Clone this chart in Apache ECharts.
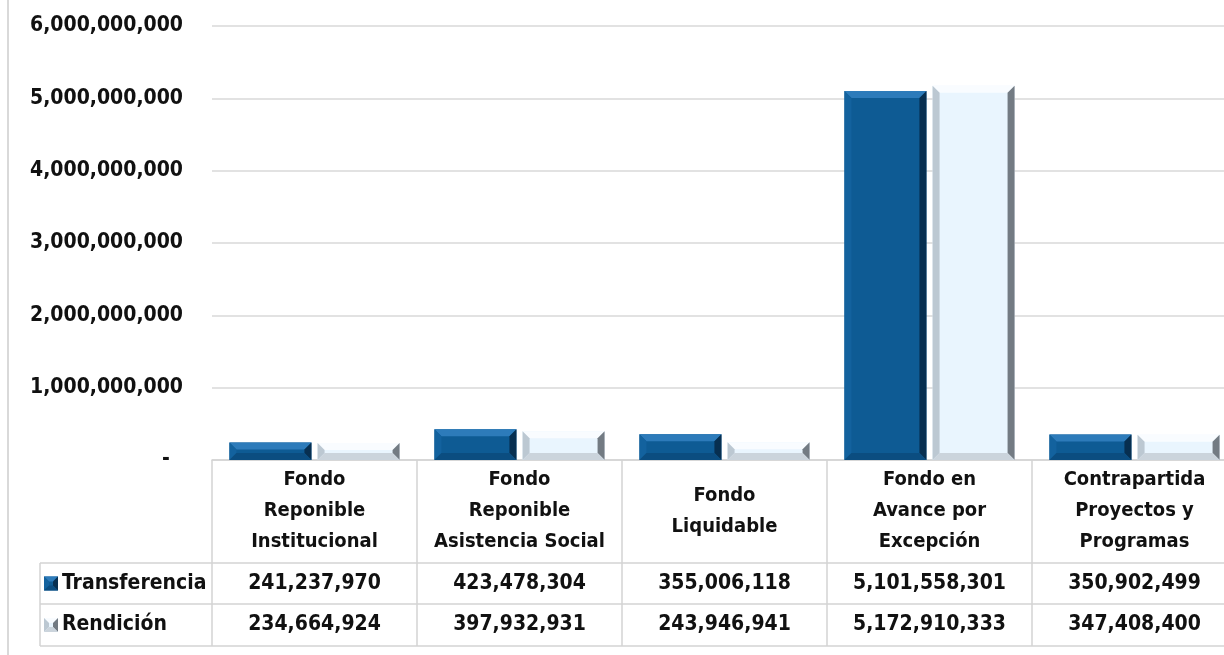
<!DOCTYPE html>
<html>
<head>
<meta charset="utf-8">
<script src="https://cdn.jsdelivr.net/npm/echarts@6/dist/echarts.min.js"></script>
<style>
html,body{margin:0;padding:0;background:#fff;overflow:hidden;width:1224px;height:655px;}
#chart{width:1237px;height:655px;}
</style>
</head>
<body>
<div id="chart"></div>
<script>
const categories = ['Fondo\nReponible\nInstitucional', 'Fondo\nReponible\nAsistencia Social', 'Fondo\nLiquidable', 'Fondo en\nAvance por\nExcepción', 'Contrapartida\nProyectos y\nProgramas'];
const seriesNames = ['Transferencia', 'Rendición'];
const transferencia = [241237970, 423478304, 355006118, 5101558301, 350902499];
const rendicion = [234664924, 397932931, 243946941, 5172910333, 347408400];
const yMin = 0, yMax = 6000000000, yInterval = 1000000000;

const FONT = '"DejaVu Sans Condensed", "DejaVu Sans", sans-serif';
const palettes = [
  {main: '#0e5b94', top: '#2d7bba', left: '#13629e', right: '#072f50', bottom: '#0b4d80'},
  {main: '#e9f5fe', top: '#f9fcff', left: '#bcc8d2', right: '#737b83', bottom: '#cbd4dc'}
];

function bevelShapes(x0, y0, x1, y1, b, pal) {
  const ix0 = x0 + b, iy0 = y0 + b, ix1 = x1 - b, iy1 = y1 - b;
  const out = [];
  const poly = (pts, c) => out.push({type: 'polygon', shape: {points: pts}, style: {fill: c}});
  out.push({type: 'rect', shape: {x: x0, y: y0, width: x1 - x0, height: y1 - y0}, style: {fill: pal.main}});
  poly([[x0, y0], [x1, y0], [ix1, iy0], [ix0, iy0]], pal.top);
  poly([[x0, y0], [ix0, iy0], [ix0, iy1], [x0, y1]], pal.left);
  poly([[x1, y0], [x1, y1], [ix1, iy1], [ix1, iy0]], pal.right);
  poly([[x0, y1], [ix0, iy1], [ix1, iy1], [x1, y1]], pal.bottom);
  return out;
}

function makeRender(sIdx) {
  const pal = palettes[sIdx];
  return function (params, api) {
    const i = api.value(0), v = api.value(1);
    const top = api.coord([i, v]);
    const base = api.coord([i, 0]);
    const band = api.size([1, 0])[0];
    const bw = band * 0.4, gap = band * 0.015;
    const x0 = sIdx === 0 ? top[0] - gap - bw : top[0] + gap;
    const x1 = x0 + bw;
    const y0 = top[1], y1 = base[1];
    const b = Math.max(0, Math.min(7, (y1 - y0) / 2.2, bw / 2));
    return {type: 'group', children: bevelShapes(x0, y0, x1, y1, b, pal)};
  };
}

const fmt = v => v === 0 ? '-' : v.toLocaleString('en-US');

const chart = echarts.init(document.getElementById('chart'));
const option = {
  animation: false,
  backgroundColor: '#fff',
  grid: {left: 212, right: 0, top: 26, bottom: 195, containLabel: false},
  xAxis: {
    type: 'category',
    data: categories,
    axisLine: {show: true, lineStyle: {color: '#d3d3d3', width: 1.5}},
    axisTick: {show: false},
    splitLine: {show: false},
    axisLabel: {
      interval: 0, margin: 51, verticalAlign: 'middle', lineHeight: 31,
      fontFamily: FONT, fontWeight: 'bold', fontSize: 20, color: '#111'
    }
  },
  yAxis: {
    type: 'value', min: yMin, max: yMax, interval: yInterval,
    axisLine: {show: false}, axisTick: {show: false},
    splitLine: {lineStyle: {color: '#d9d9d9', width: 1.5}},
    axisLabel: {
      margin: 29, formatter: v => v === 0 ? '-  ' : fmt(v),
      fontFamily: FONT, fontWeight: 'bold', fontSize: 21, color: '#111'
    }
  },
  series: [
    {name: seriesNames[0], type: 'custom', renderItem: makeRender(0), encode: {x: 0, y: 1}, data: transferencia.map((v, i) => [i, v]), z: 3},
    {name: seriesNames[1], type: 'custom', renderItem: makeRender(1), encode: {x: 0, y: 1}, data: rendicion.map((v, i) => [i, v]), z: 3}
  ]
};
chart.setOption(option);

// Data table below the plot, aligned to the category axis
const zeroY = chart.convertToPixel({yAxisIndex: 0}, 0);
const centers = categories.map((c, i) => chart.convertToPixel({xAxisIndex: 0}, i));
const band = centers.length > 1 ? centers[1] - centers[0] : 205;
const leftX = centers[0] - band / 2;
const rightX = centers[centers.length - 1] + band / 2;
const row1 = zeroY + 103, row2 = row1 + 41, row3 = row2 + 42;
const tableLeft = 40;
const lineStyle = {stroke: '#d3d3d3', lineWidth: 1.5};
const g = [];
const hl = (x1, x2, y) => g.push({type: 'line', shape: {x1, y1: y, x2, y2: y}, style: lineStyle, z: 10});
const vl = (x, y1, y2) => g.push({type: 'line', shape: {x1: x, y1, x2: x, y2}, style: lineStyle, z: 10});
hl(tableLeft, rightX, row1); hl(tableLeft, rightX, row2); hl(tableLeft, rightX, row3);
vl(tableLeft, row1, row3);
for (let k = 0; k <= centers.length; k++) vl(leftX + k * band, zeroY, row3);
// left chart border
g.push({type: 'rect', shape: {x: 7, y: 0, width: 2, height: 655}, style: {fill: '#d9d9d9'}, z: 10});

const rows = [transferencia, rendicion];
rows.forEach((vals, r) => {
  const yc = r === 0 ? (row1 + row2) / 2 : (row2 + row3) / 2;
  vals.forEach((v, i) => {
    g.push({type: 'text', x: centers[i], y: yc, style: {text: fmt(v), fontFamily: FONT, fontWeight: 'bold', fontSize: 21, fill: '#111', align: 'center', verticalAlign: 'middle'}, z: 11});
  });
  g.push({type: 'group', children: bevelShapes(44, yc - 7, 58, yc + 7, 5, palettes[r]), z: 11});
  g.push({type: 'text', x: 62, y: yc, style: {text: seriesNames[r], fontFamily: FONT, fontWeight: 'bold', fontSize: 21, fill: '#111', align: 'left', verticalAlign: 'middle'}, z: 11});
});
chart.setOption({graphic: {elements: g}});
</script>
</body>
</html>
